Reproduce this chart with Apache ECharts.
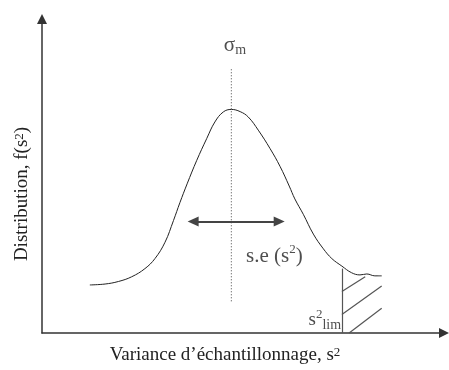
<!DOCTYPE html>
<html>
<head>
<meta charset="utf-8">
<script src="https://cdn.jsdelivr.net/npm/echarts@6/dist/echarts.min.js"></script>
<style>
  html, body { margin: 0; padding: 0; background: #fff; }
  #chart { width: 449px; height: 370px; }
</style>
</head>
<body>
<div id="chart"></div>
<script>
// courbe f(s2), axes sans unites (0 - 100)
var curveX = [11.9, 15.7, 19.0, 22.3, 25.6, 28.1, 30.6, 32.7, 34.3, 36.1, 38.5, 41.0, 43.0, 45.1, 47.1,
  49.3, 51.3, 53.8, 56.7, 59.2, 61.5, 62.9, 65.0, 67.5, 70.0, 72.1, 74.6, 77.0, 79.1, 80.8, 82.8, 84.5];
var curveY = [15.3, 15.6, 16.4, 17.9, 20.5, 23.7, 28.9, 35.8, 41.5, 47.5, 55.0, 62.0, 67.2, 70.4, 71.2,
  70.5, 68.8, 64.6, 58.8, 53.1, 46.8, 42.7, 37.8, 31.5, 26.8, 23.7, 21.3, 19.2, 18.5, 18.8, 18.2, 18.2];

// sigma_m (pointilles)
var sigmaX = 47.1;
var sigmaY = [10.1, 84.6];

// fleche s.e
var seX = [37.6, 59.0];
var seY = 35.5;

// limite s2_lim et hachures
var limX = 74.6;
var limTop = 20.5;
var hatchStart = [[74.6, 13.2], [74.6, 5.9], [76.4, 0]];
var hatchEnd = [[80.4, 17.9], [84.5, 15.0], [84.5, 7.9]];

// textes
var labelPos = [[48.0, 87.7], [50.75, 24.5], [74.4, 4.1]];
var labelText = ['{g|σ}{sub|m}', '{b|s.e (s}{sup|2}{b|)}', '{t|s}{sup|2}{sub|lim}'];
var labelSide = ['top', 'right', 'left'];

var font = 'Liberation Serif';
var ink = '#222';

var rich = {
  t: { fontFamily: font, fontSize: 19, color: ink, lineHeight: 24 },
  b: { fontFamily: font, fontSize: 21, color: ink, lineHeight: 26 },
  g: { fontFamily: font, fontSize: 21, color: ink, lineHeight: 24 },
  sup: { fontFamily: font, fontSize: 13, color: ink, lineHeight: 13, verticalAlign: 'top' },
  sub: { fontFamily: font, fontSize: 14, color: ink, lineHeight: 14, verticalAlign: 'bottom' }
};

var curveData = [];
for (var i = 0; i < curveX.length; i++) {
  curveData.push([curveX[i], curveY[i]]);
}

var hatchData = [[{ coord: [limX, 0] }, { coord: [limX, limTop] }]];
for (var k = 0; k < hatchStart.length; k++) {
  hatchData.push([{ coord: hatchStart[k] }, { coord: hatchEnd[k] }]);
}

var textData = [];
for (var j = 0; j < labelPos.length; j++) {
  textData.push({
    value: labelPos[j],
    label: { show: true, position: labelSide[j], distance: 0, formatter: labelText[j], rich: rich }
  });
}

var chart = echarts.init(document.getElementById('chart'));

var option = {
  animation: false,
  grid: { left: 42, right: 5, top: 19, bottom: 33 },
  xAxis: {
    type: 'value', min: 0, max: 100,
    name: 'Variance d’échantillonnage, s{sup|2}',
    nameLocation: 'middle', nameGap: 13,
    nameTextStyle: { fontFamily: font, fontSize: 19, color: ink, padding: [0, 36, 0, 0], rich: rich },
    axisLine: { lineStyle: { color: '#333', width: 1.5 }, symbol: ['none', 'triangle'], symbolSize: [10, 10] },
    axisTick: { show: false }, axisLabel: { show: false }, splitLine: { show: false }
  },
  yAxis: {
    type: 'value', min: 0, max: 100,
    name: 'Distribution, f(s{sup|2})',
    nameLocation: 'middle', nameGap: 10,
    nameTextStyle: { fontFamily: font, fontSize: 19, color: ink, padding: [0, 36, 0, 0], rich: rich },
    axisLine: { show: true, lineStyle: { color: '#333', width: 1.5 }, symbol: ['none', 'triangle'], symbolSize: [10, 10] },
    axisTick: { show: false }, axisLabel: { show: false }, splitLine: { show: false }
  },
  series: [
    {
      name: 'f(s2)', type: 'line', data: curveData, smooth: 0.4,
      showSymbol: false, lineStyle: { color: '#222', width: 1 }
    },
    {
      name: 'sigma', type: 'line', data: [[sigmaX, sigmaY[0]], [sigmaX, sigmaY[1]]],
      showSymbol: false, lineStyle: { color: '#444', width: 1, type: [1, 2] }
    },
    {
      name: 'se', type: 'line', data: [],
      markLine: {
        silent: true, animation: false,
        symbol: ['triangle', 'triangle'], symbolSize: [10, 11],
        label: { show: false },
        lineStyle: { color: '#444', width: 2, type: 'solid' },
        data: [[{ coord: [seX[0], seY] }, { coord: [seX[1], seY] }]]
      }
    },
    {
      name: 'hachures', type: 'line', data: [],
      markLine: {
        silent: true, animation: false,
        symbol: ['none', 'none'],
        label: { show: false },
        lineStyle: { color: '#555', width: 1.2, type: 'solid' },
        data: hatchData
      }
    },
    {
      name: 'textes', type: 'scatter', symbolSize: 0, data: textData, silent: true
    }
  ]
};

chart.setOption(option);
</script>
</body>
</html>
